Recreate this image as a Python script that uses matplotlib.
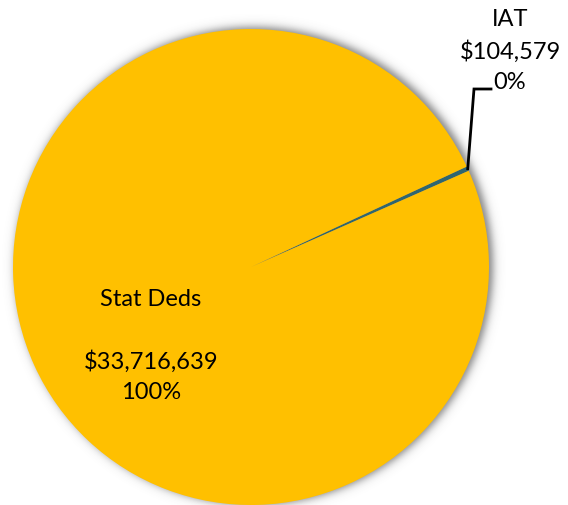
import numpy as np
import matplotlib
matplotlib.use("Agg")
import matplotlib.pyplot as plt

# Data
categories = ["IAT", "Stat Deds"]
amounts = [104579, 33716639]
colors = ["#2F6670", "#FFC000"]

W, H = 568, 506
fig = plt.figure(figsize=(W / 100, H / 100), dpi=100)
ax = fig.add_axes([0, 0, 1, 1])

cx, cy, R = 251, H - 268, 238

# soft drop shadow behind the pie
yy, xx = np.mgrid[0:H, 0:W] + 0.5
d = np.hypot(xx - (cx + 3), (H - yy) - (cy + 1))
alpha = 0.7 / (1 + np.exp((d - R - 1) / 2.6))
img = np.zeros((H, W, 4))
img[..., :3] = 0.3
img[..., 3] = alpha
ax.imshow(img, extent=(0, W, 0, H), origin="upper", zorder=0, interpolation="bilinear")

total = sum(amounts)
frac_iat = amounts[0] / total
mid_angle = 24.4
start = mid_angle - 180 * frac_iat
ax.pie(amounts, colors=colors, startangle=start, counterclock=True,
       center=(cx, cy), radius=R, frame=True,
       wedgeprops=dict(linewidth=0, zorder=2))
ax.set_xlim(0, W)
ax.set_ylim(0, H)
ax.set_aspect("equal")
ax.axis("off")

font = "Lato"
fs = 17

pct = [f"{round(100 * a / total)}%" for a in amounts]
ax.text(151, H - 346, f"{categories[1]}\n\n${amounts[1]:,}\n{pct[1]}",
        ha="center", va="center", fontsize=fs, family=font, linespacing=1.55,
        color="black", zorder=5)
ax.text(510, H - 51, f"{categories[0]}\n${amounts[0]:,}\n{pct[0]}",
        ha="center", va="center", fontsize=fs, family=font, linespacing=1.55,
        color="black", zorder=5)

# leader line for the small slice
ang = np.deg2rad(mid_angle)
ex, ey = cx + R * np.cos(ang), cy + R * np.sin(ang)
ax.plot([ex, 474, 491], [ey, H - 90, H - 90], color="black", lw=2,
        solid_joinstyle="miter", zorder=4)

fig.savefig("out.png", dpi=100)
